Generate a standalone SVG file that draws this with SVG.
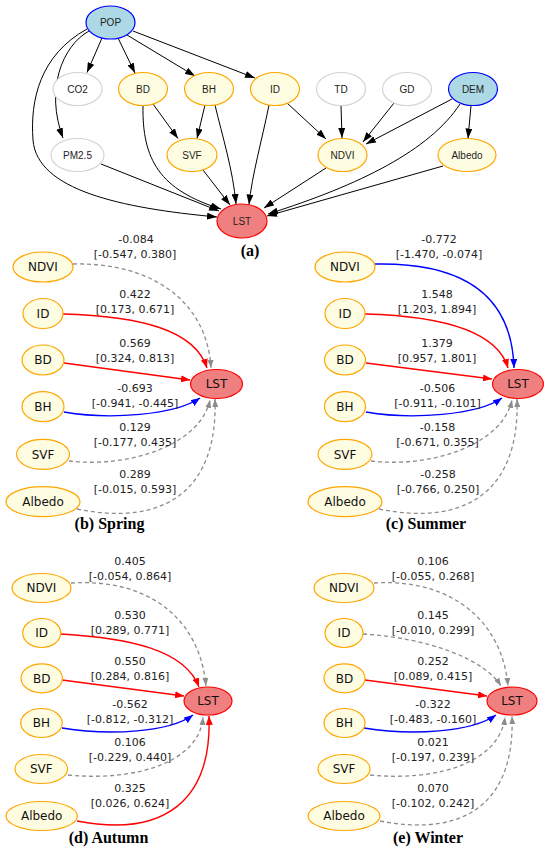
<svg xmlns="http://www.w3.org/2000/svg" width="550" height="853" viewBox="0 0 550 853">
<style>
.e{fill:none;stroke:#000;stroke-width:1}
.r{fill:none;stroke:#ff0000;stroke-width:1.4}
.b{fill:none;stroke:#0000ff;stroke-width:1.4}
.g{fill:none;stroke:#8c8c8c;stroke-width:1.3;stroke-dasharray:4,3}
.yl{fill:#fffde1;stroke:#ffa500;stroke-width:1.2}
.bl{fill:#add8e6;stroke:#0000ff;stroke-width:1.2}
.gr{fill:#fff;stroke:#d3d3d3;stroke-width:1.2}
.ls{fill:#f08080;stroke:#ff0000;stroke-width:1.2}
.t1{font-family:"Liberation Sans",Arial,sans-serif;font-size:10px;fill:#222;text-anchor:middle}
.t2{font-family:"DejaVu Sans",Verdana,sans-serif;font-size:12px;fill:#111;text-anchor:middle}
.lb{font-family:"DejaVu Sans",Verdana,sans-serif;font-size:11px;fill:#222;text-anchor:middle}
.cap{font-family:"Liberation Serif","Times New Roman",serif;font-size:16px;font-weight:bold;fill:#000;text-anchor:middle}
</style>
<defs>
<marker id="ak" viewBox="0 0 10 7" refX="10" refY="3.5" markerWidth="10" markerHeight="7" markerUnits="userSpaceOnUse" orient="auto"><path d="M0,0L10,3.5L0,7z" fill="#000"/></marker>
<marker id="ar" viewBox="0 0 9 7" refX="9" refY="3.5" markerWidth="9" markerHeight="7" markerUnits="userSpaceOnUse" orient="auto"><path d="M0,0L9,3.5L0,7z" fill="#ff0000"/></marker>
<marker id="ab" viewBox="0 0 9 7" refX="9" refY="3.5" markerWidth="9" markerHeight="7" markerUnits="userSpaceOnUse" orient="auto"><path d="M0,0L9,3.5L0,7z" fill="#0000ff"/></marker>
<marker id="ag" viewBox="0 0 8 6" refX="8" refY="3" markerWidth="8" markerHeight="6" markerUnits="userSpaceOnUse" orient="auto"><path d="M0,0L8,3L0,6z" fill="#8c8c8c"/></marker>
</defs>
<rect width="550" height="853" fill="#fff"/>

<g id="connectors">
<!-- (a) -->
<g marker-end="url(#ak)">
<path class="e" d="M102,38 L87,72.5"/>
<path class="e" d="M118,38 L135,73"/>
<path class="e" d="M127,35 L195,76"/>
<path class="e" d="M133,31 L255,78"/>
<path class="e" d="M89,31 C62,46 45,90 63,138"/>
<path class="e" d="M87,29 C40,55 30,100 33,140 C37,190 120,208 217,217"/>
<path class="e" d="M153,104 L178,138.5"/>
<path class="e" d="M143,105.5 C142,160 160,190 221,209"/>
<path class="e" d="M205,105 L197,138.5"/>
<path class="e" d="M215,105 C222,135 233,170 236,204"/>
<path class="e" d="M269,105 C262,140 252,175 249,204.5"/>
<path class="e" d="M287,103 L326,139"/>
<path class="e" d="M341,105.5 L342,138"/>
<path class="e" d="M394,103 L363,142"/>
<path class="e" d="M452,99 L366,144"/>
<path class="e" d="M471,105.5 L468,138.5"/>
<path class="e" d="M460,104 C430,150 360,185 268,214"/>
<path class="e" d="M101,164 L219,211"/>
<path class="e" d="M203,170 L230,205"/>
<path class="e" d="M326,168 L264,208"/>
<path class="e" d="M443,166 L267,216"/>
</g>
<!-- (b) -->
<path class="g" marker-end="url(#ag)" d="M73,264 C150,262 207,300 211,368"/>
<path class="r" marker-end="url(#ar)" d="M63,314 C140,316 195,330 207,368"/>
<path class="r" marker-end="url(#ar)" d="M64,363 L190,380"/>
<path class="b" marker-end="url(#ab)" d="M64,412 C110,420 175,415 200,398"/>
<path class="g" marker-end="url(#ag)" d="M69,461 C130,468 200,445 210,400"/>
<path class="g" marker-end="url(#ag)" d="M77,509 C165,527 218,490 215,399"/>
<!-- (c) -->
<path class="b" marker-end="url(#ab)" d="M375,264 C470,262 512,300 514,368"/>
<path class="r" marker-end="url(#ar)" d="M365,314 C440,316 497,330 508,368"/>
<path class="r" marker-end="url(#ar)" d="M366,363 L492,379"/>
<path class="b" marker-end="url(#ab)" d="M366,412 C412,420 478,415 502,398"/>
<path class="g" marker-end="url(#ag)" d="M371,461 C432,468 502,445 512,400"/>
<path class="g" marker-end="url(#ag)" d="M379,509 C467,527 520,490 517,399"/>
<!-- (d) -->
<path class="g" marker-end="url(#ag)" d="M71,583 C150,578 200,620 206,686"/>
<path class="r" marker-end="url(#ar)" d="M61,634 C130,638 185,650 199,687"/>
<path class="r" marker-end="url(#ar)" d="M62,680 L184,696"/>
<path class="b" marker-end="url(#ab)" d="M62,728 C110,736 170,732 193,715"/>
<path class="g" marker-end="url(#ag)" d="M68,775 C140,782 200,760 203,717"/>
<path class="r" marker-end="url(#ar)" d="M77,821 C165,838 212,800 209,716"/>
<!-- (e) -->
<path class="g" marker-end="url(#ag)" d="M374,583 C450,578 502,620 508,686"/>
<path class="g" marker-end="url(#ag)" d="M363,634 C430,638 485,660 501,686"/>
<path class="r" marker-end="url(#ar)" d="M365,680 L487,696"/>
<path class="b" marker-end="url(#ab)" d="M364,728 C412,736 472,732 496,715"/>
<path class="g" marker-end="url(#ag)" d="M370,775 C442,782 500,760 505,717"/>
<path class="g" marker-end="url(#ag)" d="M380,821 C468,838 515,800 512,716"/>
</g>

<g id="edge-labels">
<text class="lb" x="136" y="243">-0.084<tspan x="135" y="258">[-0.547, 0.380]</tspan></text>
<text class="lb" x="135" y="298">0.422<tspan x="135" y="313">[0.173, 0.671]</tspan></text>
<text class="lb" x="135" y="347">0.569<tspan x="135" y="362">[0.324, 0.813]</tspan></text>
<text class="lb" x="135" y="392">-0.693<tspan x="135" y="407">[-0.941, -0.445]</tspan></text>
<text class="lb" x="135" y="431">0.129<tspan x="135" y="446">[-0.177, 0.435]</tspan></text>
<text class="lb" x="135" y="478">0.289<tspan x="135" y="493">[-0.015, 0.593]</tspan></text>

<text class="lb" x="439" y="243">-0.772<tspan x="439" y="258">[-1.470, -0.074]</tspan></text>
<text class="lb" x="437" y="298">1.548<tspan x="437" y="313">[1.203, 1.894]</tspan></text>
<text class="lb" x="437" y="347">1.379<tspan x="437" y="362">[0.957, 1.801]</tspan></text>
<text class="lb" x="437.5" y="392">-0.506<tspan x="437.5" y="407">[-0.911, -0.101]</tspan></text>
<text class="lb" x="437.5" y="431">-0.158<tspan x="437.5" y="446">[-0.671, 0.355]</tspan></text>
<text class="lb" x="438" y="478">-0.258<tspan x="438" y="493">[-0.766, 0.250]</tspan></text>

<text class="lb" x="130" y="565">0.405<tspan x="130" y="580">[-0.054, 0.864]</tspan></text>
<text class="lb" x="130" y="619">0.530<tspan x="130" y="634">[0.289, 0.771]</tspan></text>
<text class="lb" x="130" y="665">0.550<tspan x="130" y="680">[0.284, 0.816]</tspan></text>
<text class="lb" x="130" y="708">-0.562<tspan x="130" y="723">[-0.812, -0.312]</tspan></text>
<text class="lb" x="130" y="746">0.106<tspan x="130" y="761">[-0.229, 0.440]</tspan></text>
<text class="lb" x="130" y="792">0.325<tspan x="130" y="807">[0.026, 0.624]</tspan></text>

<text class="lb" x="433" y="565">0.106<tspan x="433" y="580">[-0.055, 0.268]</tspan></text>
<text class="lb" x="433" y="619">0.145<tspan x="433" y="634">[-0.010, 0.299]</tspan></text>
<text class="lb" x="433" y="665">0.252<tspan x="433" y="680">[0.089, 0.415]</tspan></text>
<text class="lb" x="433" y="708">-0.322<tspan x="433" y="723">[-0.483, -0.160]</tspan></text>
<text class="lb" x="433" y="746">0.021<tspan x="433" y="761">[-0.197, 0.239]</tspan></text>
<text class="lb" x="433" y="792">0.070<tspan x="433" y="807">[-0.102, 0.242]</tspan></text>
</g>

<!-- (a) nodes -->
<g id="a-POP"><ellipse class="bl" cx="110.5" cy="22.5" rx="24.5" ry="16.5"/><text class="t1" x="110.5" y="26">POP</text></g>
<g id="a-CO2"><ellipse class="gr" cx="77.5" cy="89" rx="24.5" ry="16.5"/><text class="t1" x="77.5" y="92.5">CO2</text></g>
<g id="a-BD"><ellipse class="yl" cx="143" cy="89" rx="24.5" ry="16.5"/><text class="t1" x="143" y="92.5">BD</text></g>
<g id="a-BH"><ellipse class="yl" cx="209" cy="89" rx="24.5" ry="16.5"/><text class="t1" x="209" y="92.5">BH</text></g>
<g id="a-ID"><ellipse class="yl" cx="275" cy="89" rx="24.5" ry="16.5"/><text class="t1" x="275" y="92.5">ID</text></g>
<g id="a-TD"><ellipse class="gr" cx="341" cy="89" rx="24.5" ry="16.5"/><text class="t1" x="341" y="92.5">TD</text></g>
<g id="a-GD"><ellipse class="gr" cx="407" cy="89" rx="24.5" ry="16.5"/><text class="t1" x="407" y="92.5">GD</text></g>
<g id="a-DEM"><ellipse class="bl" cx="473" cy="89" rx="24.5" ry="16.5"/><text class="t1" x="473" y="92.5">DEM</text></g>
<g id="a-PM25"><ellipse class="gr" cx="77.5" cy="155" rx="26.5" ry="16.5"/><text class="t1" x="77.5" y="158.5">PM2.5</text></g>
<g id="a-SVF"><ellipse class="yl" cx="192" cy="155" rx="25" ry="16.5"/><text class="t1" x="192" y="158.5">SVF</text></g>
<g id="a-NDVI"><ellipse class="yl" cx="342.5" cy="155" rx="24.5" ry="16.5"/><text class="t1" x="342.5" y="158.5">NDVI</text></g>
<g id="a-Albedo"><ellipse class="yl" cx="467" cy="155" rx="29" ry="16.5"/><text class="t1" x="467" y="158.5">Albedo</text></g>
<g id="a-LST"><ellipse class="ls" cx="242" cy="221" rx="25" ry="17"/><text class="t1" x="242" y="224.5">LST</text></g>
<text class="cap" x="250" y="256">(a)</text>

<!-- (b) nodes -->
<g id="b-NDVI"><ellipse class="yl" cx="43" cy="267" rx="30" ry="15"/><text class="t2" x="43" y="271.4">NDVI</text></g>
<g id="b-ID"><ellipse class="yl" cx="43" cy="313.5" rx="20" ry="15"/><text class="t2" x="43" y="317.9">ID</text></g>
<g id="b-BD"><ellipse class="yl" cx="43" cy="360" rx="21" ry="15"/><text class="t2" x="43" y="364.4">BD</text></g>
<g id="b-BH"><ellipse class="yl" cx="43" cy="406.7" rx="21" ry="15"/><text class="t2" x="43" y="411.1">BH</text></g>
<g id="b-SVF"><ellipse class="yl" cx="43" cy="454.3" rx="26.5" ry="15"/><text class="t2" x="43" y="458.7">SVF</text></g>
<g id="b-Albedo"><ellipse class="yl" cx="43" cy="501.7" rx="37" ry="15"/><text class="t2" x="43" y="506.1">Albedo</text></g>
<g id="b-LST"><ellipse class="ls" cx="216.5" cy="384" rx="26" ry="14.5"/><text class="t2" x="216.5" y="388.4">LST</text></g>
<text class="cap" x="109.5" y="529">(b) Spring</text>

<!-- (c) nodes -->
<g id="c-NDVI"><ellipse class="yl" cx="345" cy="267" rx="30" ry="15"/><text class="t2" x="345" y="271.4">NDVI</text></g>
<g id="c-ID"><ellipse class="yl" cx="345" cy="313.5" rx="20" ry="15"/><text class="t2" x="345" y="317.9">ID</text></g>
<g id="c-BD"><ellipse class="yl" cx="345" cy="360" rx="20.5" ry="15"/><text class="t2" x="345" y="364.4">BD</text></g>
<g id="c-BH"><ellipse class="yl" cx="345" cy="406.7" rx="20.5" ry="15"/><text class="t2" x="345" y="411.1">BH</text></g>
<g id="c-SVF"><ellipse class="yl" cx="345" cy="454.3" rx="27" ry="15"/><text class="t2" x="345" y="458.7">SVF</text></g>
<g id="c-Albedo"><ellipse class="yl" cx="345" cy="501.7" rx="37" ry="15"/><text class="t2" x="345" y="506.1">Albedo</text></g>
<g id="c-LST"><ellipse class="ls" cx="518" cy="384" rx="25.5" ry="14.5"/><text class="t2" x="518" y="388.4">LST</text></g>
<text class="cap" x="426" y="529">(c) Summer</text>

<!-- (d) nodes -->
<g id="d-NDVI"><ellipse class="yl" cx="41.5" cy="588" rx="29.5" ry="14.5"/><text class="t2" x="41.5" y="592.4">NDVI</text></g>
<g id="d-ID"><ellipse class="yl" cx="41.7" cy="633" rx="19" ry="14.5"/><text class="t2" x="41.7" y="637.4">ID</text></g>
<g id="d-BD"><ellipse class="yl" cx="41.7" cy="678.3" rx="20.7" ry="14.5"/><text class="t2" x="41.7" y="682.7">BD</text></g>
<g id="d-BH"><ellipse class="yl" cx="41.5" cy="723" rx="20.7" ry="14.5"/><text class="t2" x="41.5" y="727.4">BH</text></g>
<g id="d-SVF"><ellipse class="yl" cx="41.3" cy="769" rx="26.3" ry="14.5"/><text class="t2" x="41.3" y="773.4">SVF</text></g>
<g id="d-Albedo"><ellipse class="yl" cx="41.7" cy="816" rx="35.7" ry="14.5"/><text class="t2" x="41.7" y="820.4">Albedo</text></g>
<g id="d-LST"><ellipse class="ls" cx="208" cy="701" rx="24" ry="14"/><text class="t2" x="208" y="705.4">LST</text></g>
<text class="cap" x="108.5" y="843">(d) Autumn</text>

<!-- (e) nodes -->
<g id="e-NDVI"><ellipse class="yl" cx="344" cy="588" rx="30" ry="14.5"/><text class="t2" x="344" y="592.4">NDVI</text></g>
<g id="e-ID"><ellipse class="yl" cx="344" cy="633" rx="19" ry="14.5"/><text class="t2" x="344" y="637.4">ID</text></g>
<g id="e-BD"><ellipse class="yl" cx="344.5" cy="678.3" rx="20.5" ry="14.5"/><text class="t2" x="344.5" y="682.7">BD</text></g>
<g id="e-BH"><ellipse class="yl" cx="344.5" cy="723" rx="20.5" ry="14.5"/><text class="t2" x="344.5" y="727.4">BH</text></g>
<g id="e-SVF"><ellipse class="yl" cx="344" cy="769" rx="26" ry="14.5"/><text class="t2" x="344" y="773.4">SVF</text></g>
<g id="e-Albedo"><ellipse class="yl" cx="344" cy="816" rx="36" ry="14.5"/><text class="t2" x="344" y="820.4">Albedo</text></g>
<g id="e-LST"><ellipse class="ls" cx="512" cy="701" rx="25" ry="14"/><text class="t2" x="512" y="705.4">LST</text></g>
<text class="cap" x="428" y="843">(e) Winter</text>
</svg>
